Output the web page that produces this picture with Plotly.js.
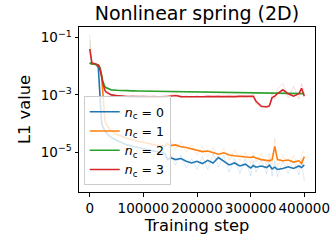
<!DOCTYPE html>
<html><head><meta charset="utf-8">
<script src="https://cdn.plot.ly/plotly-3.0.1.min.js"></script>
<style>html,body{margin:0;padding:0;background:#fff}#c{width:332px;height:240px}</style>
</head><body><div id="c"></div>
<script>
const steps = [0,4000,8000,12000,16000,18000,20000,22000,24000,26000,28000,30000,35000,40000,50000,60000,70000,80000,90000,100000,110000,120000,130000,140000,145000,150000,160000,170000,180000,190000,200000,210000,220000,230000,240000,250000,260000,270000,280000,290000,300000,305000,310000,320000,330000,335000,340000,345000,350000,360000,370000,380000,390000,395000,400000];

const nc0 = [0.013,0.012,0.012,0.0115,0.009,0.002,0.0003,0.00012,8e-5,6.5e-5,5.5e-5,5e-5,4e-5,3.3e-5,2.6e-5,2.1e-5,1.8e-5,1.6e-5,1.45e-5,1.3e-5,1.2e-5,1.1e-5,1e-5,9e-6,5.5e-6,6.5e-6,5.5e-6,6e-6,4.8e-6,4.2e-6,4.8e-6,4e-6,5.2e-6,4.2e-6,6.5e-6,5e-6,3.6e-6,4.2e-6,3.3e-6,3.8e-6,2.8e-6,3.4e-6,3e-6,3.3e-6,2.9e-6,3.5e-6,2.6e-6,3e-6,2.5e-6,2.7e-6,3.1e-6,2.7e-6,3.3e-6,2.9e-6,3.6e-6];
const nc1 = [0.013,0.012,0.012,0.0115,0.011,0.0095,0.008,0.005,0.0015,0.0003,0.00015,0.0001,7e-5,5.5e-5,4.2e-5,3.5e-5,3e-5,2.7e-5,2.4e-5,2.2e-5,2e-5,1.8e-5,1.7e-5,1.6e-5,2e-5,1.7e-5,1.8e-5,1.55e-5,1.45e-5,1.3e-5,1.15e-5,1.05e-5,1.1e-5,9.5e-6,8.5e-6,9.5e-6,8e-6,7.5e-6,7.2e-6,6.8e-6,6.5e-6,7e-6,6.2e-6,5.5e-6,5.2e-6,5e-6,5.5e-6,1.6e-5,5.5e-6,5e-6,5.3e-6,4.5e-6,5e-6,4e-6,7e-6];
const nc2 = [0.013,0.012,0.012,0.0115,0.011,0.0095,0.0075,0.005,0.0032,0.0024,0.002,0.0018,0.0016,0.0015,0.00145,0.0014,0.0014,0.00138,0.00136,0.00135,0.00134,0.00133,0.00132,0.0013,0.0013,0.0013,0.00128,0.00127,0.00126,0.00125,0.00124,0.00123,0.00122,0.00121,0.0012,0.0012,0.00119,0.00118,0.00118,0.00117,0.00116,0.00116,0.00115,0.00115,0.00114,0.00114,0.00114,0.00113,0.00113,0.00113,0.00112,0.00112,0.00112,0.00111,0.00111];
const nc3 = [0.04,0.013,0.0125,0.012,0.011,0.0095,0.007,0.0045,0.0028,0.0019,0.0015,0.0013,0.0011,0.001,0.00095,0.0009,0.00088,0.00087,0.00086,0.00088,0.00086,0.00087,0.00085,0.00086,0.00088,0.00087,0.00095,0.00087,0.00086,0.00088,0.00087,0.00086,0.00088,0.00087,0.00089,0.00086,0.00088,0.00087,0.00089,0.00088,0.00087,0.0009,0.0006,0.0004,0.00038,0.00042,0.0008,0.0009,0.0011,0.0015,0.0011,0.0009,0.0011,0.0017,0.0009];

const raw0 = [0.02,0.013,0.011,0.012,0.008,0.0015,0.0002,9e-5,7e-5,5e-5,6e-5,4e-5,3.5e-5,2.5e-5,2.2e-5,1.5e-5,2e-5,1.2e-5,1.6e-5,1e-5,1.5e-5,8e-6,1.3e-5,6e-6,3e-6,9e-6,3.5e-6,8e-6,2.8e-6,6e-6,2.5e-6,7e-6,2.5e-6,9e-6,3e-6,8e-6,2e-6,6e-6,1.8e-6,6e-6,1.5e-6,5e-6,2e-6,5.5e-6,1.7e-6,6e-6,1.5e-6,5e-6,1.4e-6,5e-6,1.8e-6,5e-6,1.6e-6,5.5e-6,1e-6];
const raw1 = [0.05,0.014,0.012,0.011,0.012,0.009,0.008,0.004,0.001,0.0002,0.0001,8e-5,6e-5,4.5e-5,3.5e-5,4e-5,2.5e-5,3e-5,2e-5,2.6e-5,1.7e-5,2.2e-5,1.4e-5,2.5e-5,1.5e-5,2.8e-5,1.3e-5,2.4e-5,1e-5,1.8e-5,8e-6,1.6e-5,7e-6,1.5e-5,6e-6,1.4e-5,5e-6,1.2e-5,5e-6,1e-5,4e-6,1e-5,4.5e-6,9e-6,3.5e-6,9e-6,3.5e-6,3e-5,3e-6,8e-6,3e-6,8e-6,2.5e-6,8e-6,1.2e-5];
const raw2 = [0.13,0.013,0.011,0.012,0.011,0.009,0.007,0.0045,0.003,0.0023,0.0019,0.0018,0.0017,0.0015,0.0016,0.0014,0.0015,0.00135,0.0014,0.0013,0.0014,0.0013,0.00135,0.00128,0.00133,0.00128,0.00132,0.00125,0.0013,0.00123,0.00127,0.0012,0.00125,0.00119,0.00123,0.00118,0.00122,0.00116,0.0012,0.00115,0.00119,0.00114,0.00118,0.00113,0.00117,0.00112,0.00116,0.00111,0.00115,0.00112,0.00115,0.0011,0.00114,0.0011,0.00113];
const raw3 = [0.08,0.014,0.012,0.012,0.01,0.009,0.006,0.004,0.0025,0.0017,0.0014,0.0012,0.001,0.0011,0.0009,0.001,0.0008,0.00095,0.0008,0.00095,0.0008,0.00095,0.0008,0.001,0.0008,0.00095,0.0013,0.0008,0.00095,0.0008,0.00095,0.0008,0.001,0.0008,0.00098,0.0008,0.001,0.0008,0.001,0.0008,0.00095,0.0012,0.0005,0.00035,0.00045,0.00035,0.0012,0.0007,0.0016,0.0025,0.0008,0.002,0.0007,0.0025,0.0012];

const labels = ['<i>n</i><sub>c</sub> = 0','<i>n</i><sub>c</sub> = 1','<i>n</i><sub>c</sub> = 2','<i>n</i><sub>c</sub> = 3'];
const colors = ['#1f77b4','#ff7f0e','#2ca02c','#d62728'];
const xTicks = [0,100000,200000,300000,400000];
const xTickText = ['0','100000','200000','300000','400000'];
const yTicks = [1e-1,1e-3,1e-5];
const yTickText = ['10<sup>−1</sup>','10<sup>−3</sup>','10<sup>−5</sup>'];

const smooth = [nc0,nc1,nc2,nc3];
const raw = [raw0,raw1,raw2,raw3];
const traces = [];
raw.forEach((r,i)=>traces.push({x:steps,y:r,type:'scatter',mode:'lines',line:{color:colors[i],width:1},opacity:0.15,showlegend:false,hoverinfo:'skip'}));
smooth.forEach((s,i)=>traces.push({x:steps,y:s,type:'scatter',mode:'lines',line:{color:colors[i],width:1.6},name:labels[i],legendgroup:'g'+i}));

const F = 'DejaVu Sans';
const layout = {
  width:332,height:240,
  margin:{l:79,r:17,t:27,b:48,pad:0},
  paper_bgcolor:'#fff',plot_bgcolor:'#fff',
  font:{family:F,color:'#000',size:13.5},
  title:{text:'Nonlinear spring (2D)',font:{family:F,size:19,color:'#000'},x:0.593,xanchor:'center',y:0.945,yanchor:'middle'},
  xaxis:{range:[-20000,420000],tickmode:'array',tickvals:xTicks,ticktext:xTickText,ticks:'outside',ticklen:3.5,tickcolor:'#000',
    showline:true,mirror:true,linecolor:'#000',linewidth:1,showgrid:false,zeroline:false,
    tickfont:{family:F,size:13.5,color:'#000'},
    title:{text:'Training step',font:{family:F,size:16.3,color:'#000'},standoff:3}},
  yaxis:{type:'log',range:[-6.39,-0.63],tickmode:'array',tickvals:yTicks,ticktext:yTickText,ticks:'outside',ticklen:3.5,tickcolor:'#000',
    showline:true,mirror:true,linecolor:'#000',linewidth:1,showgrid:false,zeroline:false,
    tickfont:{family:F,size:13.5,color:'#000'},
    title:{text:'L1 value',font:{family:F,size:16.3,color:'#000'},standoff:5}},
  legend:{x:0.02,y:0.042,xanchor:'left',yanchor:'bottom',bgcolor:'rgba(255,255,255,0.8)',bordercolor:'#ccc',borderwidth:1,
    font:{family:F,size:12.5,color:'#000'},tracegroupgap:0,itemwidth:30}
};
Plotly.newPlot('c',traces,layout,{staticPlot:true,displayModeBar:false});
</script></body></html>
